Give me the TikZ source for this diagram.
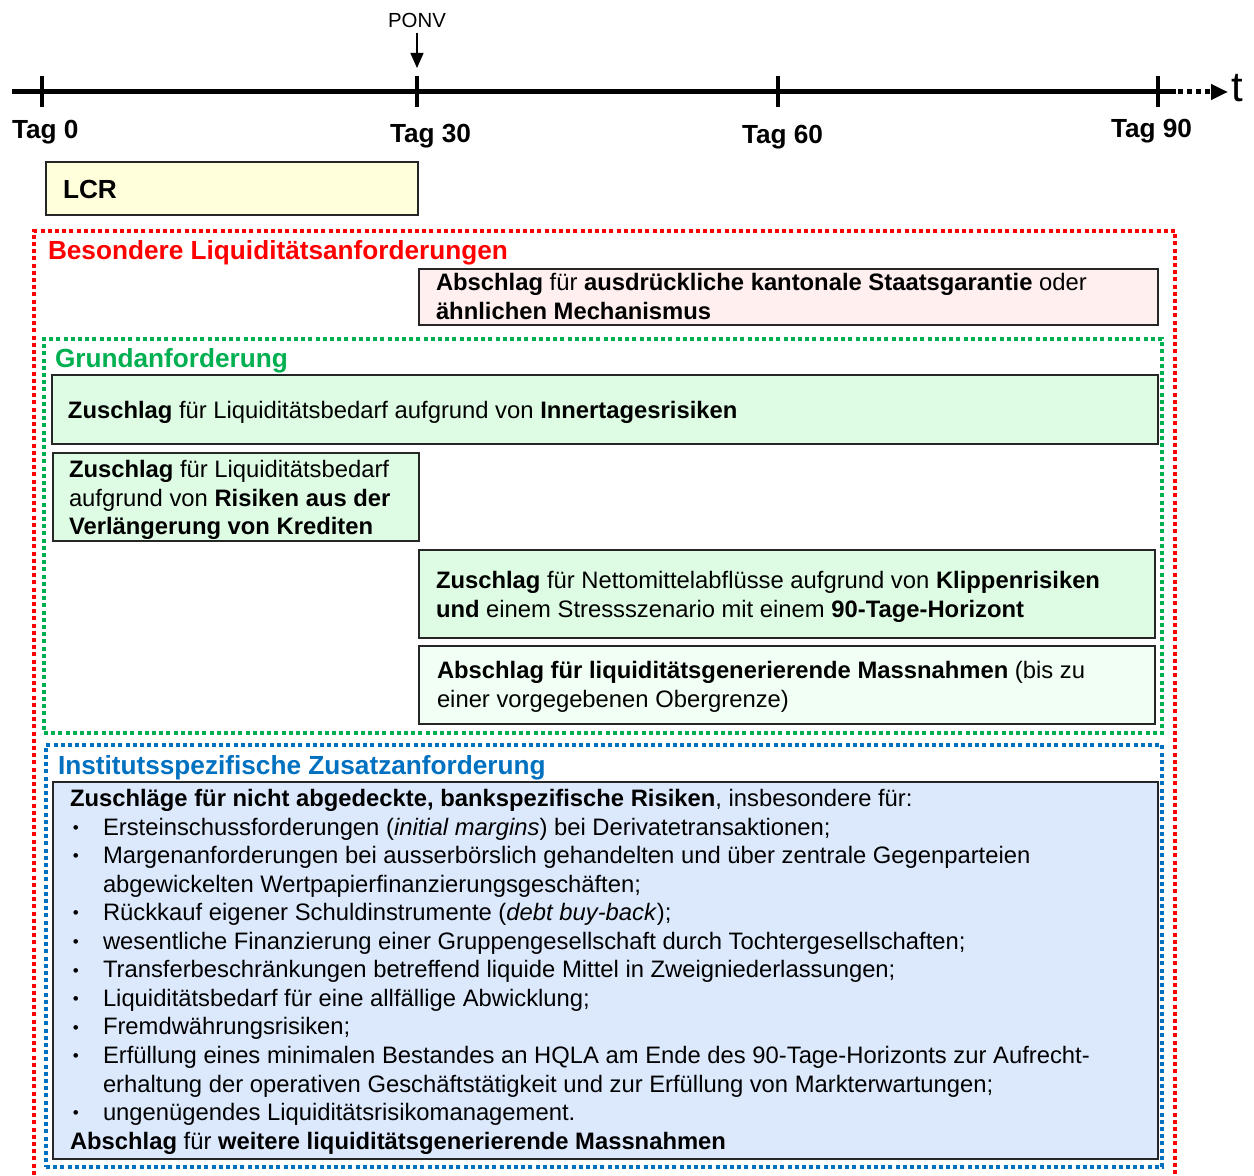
\documentclass[tikz,border=0pt]{standalone}
\usepackage{fontspec}
\setmainfont{Liberation Sans}
\usetikzlibrary{arrows.meta,fit}
\definecolor{framered}{HTML}{FF0000}
\definecolor{framegreen}{HTML}{00B050}
\definecolor{frameblue}{HTML}{0070C0}
\definecolor{lcrfill}{HTML}{FFFFDC}
\definecolor{pinkfill}{HTML}{FFEFEE}
\definecolor{greenfill}{HTML}{DDFCE3}
\definecolor{palegreenfill}{HTML}{F1FFF4}
\definecolor{bluefill}{HTML}{DCE9FD}
\definecolor{boxline}{HTML}{262626}
\newcommand{\bodyfont}{\fontsize{11.9pt}{14.28pt}\selectfont}
\newcommand{\headfont}{\fontsize{13.1pt}{15.7pt}\selectfont\bfseries}
\newcommand{\bul}{\makebox[16.5pt][l]{\hspace{1.4pt}\raisebox{0.9pt}{\fontsize{8.5pt}{9pt}\selectfont\textbullet}}}
\newcommand{\contind}{\hspace*{16.5pt}}
\begin{document}
\begin{tikzpicture}[x=0.5pt,y=-0.5pt,
  axisline/.style={line width=2.5pt,line cap=butt},
  tickline/.style={line width=2pt},
  frame/.style={line width=2pt,dash pattern=on 2pt off 1.6pt},
  redframe/.style={frame,draw=framered},
  greenframe/.style={frame,draw=framegreen,inner sep=0pt,outer sep=0pt},
  blueframe/.style={frame,draw=frameblue,inner sep=0pt,outer sep=0pt},
  box/.style={draw=boxline,line width=0.8pt,inner sep=0pt,outer sep=0pt},
  txt/.style={anchor=base west,inner sep=0pt,outer sep=0pt,font=\bodyfont},
  tag/.style={anchor=base west,inner sep=0pt,outer sep=0pt,font=\fontsize{13.1pt}{15.7pt}\selectfont\bfseries},
  head/.style={anchor=base west,inner sep=0pt,outer sep=0pt,font=\headfont}
]
\useasboundingbox (0,0) rectangle (1254,1176);

% ---------- timeline ----------
\coordinate (tlstart) at (12,92);
\coordinate (tlend) at (1176,92);
\coordinate (tltip) at (1228,92);
\coordinate (t0) at (42,92);
\coordinate (t30) at (417,92);
\coordinate (t60) at (778,92);
\coordinate (t90) at (1158,92);
\draw[axisline] (tlstart) -- (tlend);
\draw[axisline,dash pattern=on 2.5pt off 2pt,dash phase=-1pt,
      -{Triangle[length=8.5pt,width=7.5pt]}] (tlend) -- (tltip);
\foreach \c in {t0,t30,t60,t90}
  \draw[tickline] (\c) ++(0,-16) -- ++(0,31);
\node[anchor=base west,inner sep=0pt,font=\fontsize{21pt}{24pt}\selectfont] (tlabel) at (1231,102) {t};

\node[tag] (tag0) at (12,139) {Tag 0};
\node[tag] (tag30) at (390,143) {Tag 30};
\node[tag] (tag60) at (742,144) {Tag 60};
\node[tag] (tag90) at (1111,138) {Tag 90};

\node[anchor=base,inner sep=0pt,font=\fontsize{10.2pt}{12pt}\selectfont] (ponv) at (417,28) {PONV};
\coordinate (ponvtip) at (417,68);
\draw[line width=0.7pt,-{Triangle[length=7.5pt,width=6.5pt]},shorten <=2pt] (ponv.south) -- (ponvtip);

% ---------- LCR ----------
\node[box,fill=lcrfill,fit={(46,162) (418,215)}] (lcr) {};
\node[tag] (lcrtxt) at (63,198.5) {LCR};

% ---------- frames ----------
\draw[redframe] (34,1182) -- (34,231) -- (1175,231) -- (1175,1182);
\node[greenframe,fit={(44,339) (1162,733)}] (grundframe) {};
\node[blueframe,fit={(46,745) (1162,1167)}] (instframe) {};

% ---------- Besondere Liquiditaetsanforderungen ----------
\node[head,text=framered] (besonderehead) at (48,259.5) {Besondere Liquiditätsanforderungen};
\node[box,fill=pinkfill,fit={(419,269) (1158,325)}] (kantonbox) {};
\node[txt] (kantontxt) at (436,291) {\begin{tabular}[t]{@{}l@{}}
\textbf{Abschlag} für \textbf{ausdrückliche kantonale Staatsgarantie} oder\\
\textbf{ähnlichen Mechanismus}\end{tabular}};

% ---------- Grundanforderung ----------
\node[head,text=framegreen] (grundhead) at (55,367.5) {Grundanforderung};
\node[box,fill=greenfill,fit={(52,375) (1158,444)}] (intrabox) {};
\node[txt] (intratxt) at (68,418.5) {\textbf{Zuschlag} für Liquiditätsbedarf aufgrund von \textbf{Innertagesrisiken}};

\node[box,fill=greenfill,fit={(53,453) (419,541)}] (kreditbox) {};
\node[txt] (kredittxt) at (69,477.5) {\begin{tabular}[t]{@{}l@{}}
\textbf{Zuschlag} für Liquiditätsbedarf\\
aufgrund von \textbf{Risiken aus der}\\
\textbf{Verlängerung von Krediten}\end{tabular}};

\node[box,fill=greenfill,fit={(419,550) (1155,638)}] (klippenbox) {};
\node[txt] (klippentxt) at (436,588.5) {\begin{tabular}[t]{@{}l@{}}
\textbf{Zuschlag} für Nettomittelabflüsse aufgrund von \textbf{Klippenrisiken}\\
\textbf{und} einem Stressszenario mit einem \textbf{90-Tage-Horizont}\end{tabular}};

\node[box,fill=palegreenfill,fit={(419,646) (1155,724)}] (massbox) {};
\node[txt] (masstxt) at (437,678.5) {\begin{tabular}[t]{@{}l@{}}
\textbf{Abschlag für liquiditätsgenerierende Massnahmen} (bis zu\\
einer vorgegebenen Obergrenze)\end{tabular}};

% ---------- Institutsspezifische Zusatzanforderung ----------
\node[head,text=frameblue] (insthead) at (58,774) {Institutsspezifische Zusatzanforderung};
\node[box,fill=bluefill,fit={(53,782) (1158,1159)}] (zusatzbox) {};
\node[txt] (zusatztxt) at (70,806.5) {\begin{tabular}[t]{@{}l@{}}
\textbf{Zuschläge für nicht abgedeckte, bankspezifische Risiken}, insbesondere für:\\
\bul Ersteinschussforderungen (\textit{initial margins}) bei Derivatetransaktionen;\\
\bul Margenanforderungen bei ausserbörslich gehandelten und über zentrale Gegenparteien\\
\contind abgewickelten Wertpapierfinanzierungsgeschäften;\\
\bul Rückkauf eigener Schuldinstrumente (\textit{debt buy-back});\\
\bul wesentliche Finanzierung einer Gruppengesellschaft durch Tochtergesellschaften;\\
\bul Transferbeschränkungen betreffend liquide Mittel in Zweigniederlassungen;\\
\bul Liquiditätsbedarf für eine allfällige Abwicklung;\\
\bul Fremdwährungsrisiken;\\
\bul Erfüllung eines minimalen Bestandes an HQLA am Ende des 90-Tage-Horizonts zur Aufrecht-\\
\contind erhaltung der operativen Geschäftstätigkeit und zur Erfüllung von Markterwartungen;\\
\bul ungenügendes Liquiditätsrisikomanagement.\\
\textbf{Abschlag} für \textbf{weitere liquiditätsgenerierende Massnahmen}\end{tabular}};
\end{tikzpicture}
\end{document}
